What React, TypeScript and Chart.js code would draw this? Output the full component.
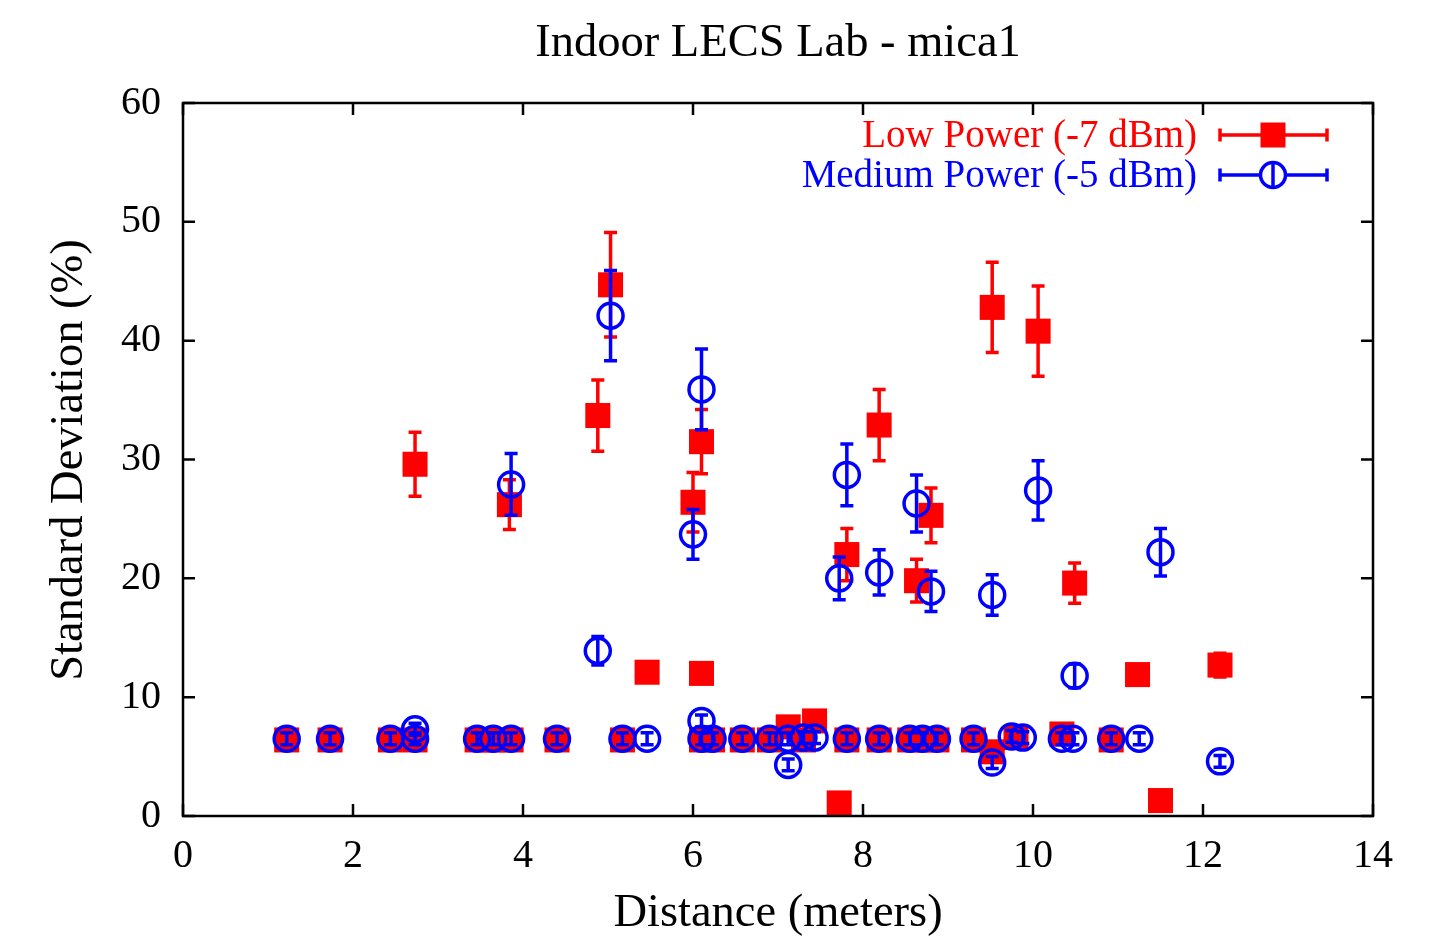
import React, { useEffect, useRef } from "react";
import { Chart, registerables } from "chart.js";

Chart.register(...registerables);

// ---- Data ----
const lowDistance = [
  1.22, 1.73, 2.44, 2.73, 2.73, 3.46, 3.65, 3.86, 3.84, 4.4, 4.88, 5.03, 5.17, 5.46, 6.0, 6.1, 6.1, 6.1, 6.23, 6.58,
  6.9, 7.12, 7.43, 7.3, 7.72, 7.81, 7.81, 8.19, 8.19, 8.55, 8.63, 8.7, 8.8, 8.87, 9.3, 9.52, 9.52, 9.8, 10.06, 10.34,
  10.49, 10.92, 11.23, 11.5, 12.2,
];
const lowStdDev = [
  6.4, 6.4, 6.4, 6.4, 29.6, 6.4, 6.4, 6.4, 26.2, 6.4, 33.7, 44.7, 6.4, 12.1, 26.4, 31.5, 12.0, 6.4, 6.4, 6.4,
  6.4, 7.5, 8.0, 6.4, 1.1, 22.0, 6.4, 32.9, 6.4, 6.4, 19.8, 6.4, 25.3, 6.4, 6.4, 42.8, 5.4, 6.6, 40.8, 6.9,
  19.6, 6.4, 11.9, 1.3, 12.7,
];
const lowError = [
  0.5, 0.5, 0.5, 0.5, 2.7, 0.5, 0.5, 0.5, 2.1, 0.5, 3.0, 4.4, 0.5, 0.7, 2.5, 2.7, 0.8, 0.5, 0.5, 0.5,
  0.5, 0.5, 0.5, 0.5, 0.3, 2.2, 0.5, 3.0, 0.5, 0.5, 1.8, 0.5, 2.3, 0.5, 0.5, 3.8, 0.5, 0.5, 3.8, 0.5,
  1.7, 0.5, 0.6, 0.3, 1.0,
];

const medDistance = [
  1.22, 1.73, 2.44, 2.73, 2.73, 3.46, 3.65, 3.86, 3.86, 4.4, 4.88, 5.03, 5.17, 5.46, 6.0, 6.1, 6.1, 6.1, 6.23, 6.58,
  6.9, 7.12, 7.12, 7.3, 7.43, 7.72, 7.81, 7.81, 8.19, 8.19, 8.55, 8.63, 8.7, 8.8, 8.87, 9.3, 9.52, 9.52, 9.75, 9.88,
  10.06, 10.34, 10.47, 10.49, 10.92, 11.25, 11.5, 12.2,
];
const medStdDev = [
  6.5, 6.5, 6.5, 6.5, 7.3, 6.5, 6.5, 6.5, 27.9, 6.5, 13.9, 42.1, 6.5, 6.5, 23.7, 35.9, 8.0, 6.5, 6.5, 6.5,
  6.5, 6.5, 4.3, 6.6, 6.6, 20.0, 28.7, 6.5, 20.5, 6.5, 6.5, 26.3, 6.5, 18.9, 6.5, 6.5, 18.6, 4.5, 6.7, 6.6,
  27.4, 6.5, 6.5, 11.8, 6.5, 6.5, 22.2, 4.6,
];
const medError = [
  0.5, 0.5, 0.5, 0.5, 0.5, 0.5, 0.5, 0.5, 2.6, 0.5, 1.2, 3.8, 0.5, 0.5, 2.1, 3.4, 0.5, 0.5, 0.5, 0.5,
  0.5, 0.5, 0.5, 0.5, 0.5, 1.8, 2.6, 0.5, 1.9, 0.5, 0.5, 2.4, 0.5, 1.7, 0.5, 0.5, 1.7, 0.5, 0.5, 0.5,
  2.5, 0.5, 0.5, 1.0, 0.5, 0.5, 2.0, 0.5,
];

const xTicks = [0, 2, 4, 6, 8, 10, 12, 14];
const yTicks = [0, 10, 20, 30, 40, 50, 60];

const seriesLabels = ["Low Power (-7 dBm)", "Medium Power (-5 dBm)"];
const chartTitle = "Indoor LECS Lab - mica1";
const xTitle = "Distance (meters)";
const yTitle = "Standard Deviation (%)";

const RED = "#ff0000";
const BLUE = "#0000ff";
const FONT = "'Liberation Serif', 'Times New Roman', serif";
const LW = 3.5;

const errorBarPlugin = {
  id: "errorBars",
  beforeDatasetDraw(chart: any, args: any) {
    const ds = chart.data.datasets[args.index];
    const errs: number[] = ds.errorBars;
    if (!errs) return;
    const xs = chart.scales.x;
    const ys = chart.scales.y;
    const ctx = chart.ctx;
    ctx.save();
    ctx.strokeStyle = ds.borderColor;
    ctx.lineWidth = LW;
    ds.data.forEach((p: any, i: number) => {
      const px = xs.getPixelForValue(p.x);
      const top = ys.getPixelForValue(p.y + errs[i]);
      const bot = ys.getPixelForValue(p.y - errs[i]);
      ctx.beginPath();
      ctx.moveTo(px, top);
      ctx.lineTo(px, bot);
      ctx.moveTo(px - 6.5, top);
      ctx.lineTo(px + 6.5, top);
      ctx.moveTo(px - 6.5, bot);
      ctx.lineTo(px + 6.5, bot);
      ctx.stroke();
    });
    ctx.restore();
  },
};

const framePlugin = {
  id: "frameDeco",
  afterDraw(chart: any) {
    const { ctx, chartArea } = chart;
    const { left, right, top, bottom } = chartArea;
    const xs = chart.scales.x;
    const ys = chart.scales.y;
    ctx.save();
    ctx.strokeStyle = "#000";
    ctx.lineWidth = 2.5;
    ctx.strokeRect(left, top, right - left, bottom - top);
    const tl = 12;
    ctx.beginPath();
    xTicks.forEach((v) => {
      const px = xs.getPixelForValue(v);
      ctx.moveTo(px, bottom);
      ctx.lineTo(px, bottom - tl);
      ctx.moveTo(px, top);
      ctx.lineTo(px, top + tl);
    });
    yTicks.forEach((v) => {
      const py = ys.getPixelForValue(v);
      ctx.moveTo(left, py);
      ctx.lineTo(left + tl, py);
      ctx.moveTo(right, py);
      ctx.lineTo(right - tl, py);
    });
    ctx.stroke();

    // titles
    ctx.fillStyle = "#000";
    ctx.textAlign = "center";
    ctx.textBaseline = "middle";
    ctx.font = `46.5px ${FONT}`;
    ctx.fillText(chartTitle, (left + right) / 2, 44);
    ctx.fillText(xTitle, (left + right) / 2, 914);
    ctx.save();
    ctx.translate(70, 460);
    ctx.rotate(-Math.PI / 2);
    ctx.fillText(yTitle, 0, 0);
    ctx.restore();

    // legend
    const rows = [
      { label: seriesLabels[0], color: RED, y: 135, kind: "rect" },
      { label: seriesLabels[1], color: BLUE, y: 175, kind: "circle" },
    ];
    ctx.font = `39px ${FONT}`;
    ctx.textAlign = "right";
    rows.forEach((r) => {
      ctx.fillStyle = r.color;
      ctx.fillText(r.label, 1197, r.y + 2);
      ctx.strokeStyle = r.color;
      ctx.lineWidth = LW;
      ctx.beginPath();
      ctx.moveTo(1220, r.y);
      ctx.lineTo(1327, r.y);
      ctx.moveTo(1220, r.y - 6.5);
      ctx.lineTo(1220, r.y + 6.5);
      ctx.moveTo(1327, r.y - 6.5);
      ctx.lineTo(1327, r.y + 6.5);
      ctx.stroke();
      if (r.kind === "rect") {
        ctx.fillRect(1273 - 12.5, r.y - 12.5, 25, 25);
      } else {
        ctx.fillStyle = "#fff";
        ctx.beginPath();
        ctx.arc(1273, r.y, 12.5, 0, Math.PI * 2);
        ctx.fill();
        ctx.stroke();
        ctx.beginPath();
        ctx.moveTo(1273, r.y - 12.5);
        ctx.lineTo(1273, r.y + 12.5);
        ctx.stroke();
      }
    });
    ctx.restore();
  },
};

export default function App() {
  const canvasRef = useRef<HTMLCanvasElement | null>(null);

  useEffect(() => {
    if (!canvasRef.current) return;
    const lowData = lowDistance.map((x, i) => ({ x, y: lowStdDev[i] }));
    const medData = medDistance.map((x, i) => ({ x, y: medStdDev[i] }));
    const chart = new Chart(canvasRef.current, {
      type: "scatter",
      data: {
        datasets: [
          {
            label: seriesLabels[0],
            data: lowData,
            errorBars: lowError,
            order: 2,
            pointStyle: "rect",
            pointRadius: 17.7,
            pointBackgroundColor: RED,
            pointBorderColor: RED,
            pointBorderWidth: 0,
            borderColor: RED,
            backgroundColor: RED,
            showLine: false,
          } as any,
          {
            label: seriesLabels[1],
            data: medData,
            errorBars: medError,
            order: 1,
            pointStyle: "circle",
            pointRadius: 12.5,
            pointBackgroundColor: "rgba(0,0,0,0)",
            pointBorderColor: BLUE,
            pointBorderWidth: LW,
            borderColor: BLUE,
            backgroundColor: "rgba(0,0,0,0)",
            showLine: false,
          } as any,
        ],
      },
      options: {
        responsive: false,
        animation: false,
        layout: { padding: { left: 0, right: 73, top: 103, bottom: 0 } },
        plugins: {
          legend: { display: false },
          title: { display: false },
          tooltip: { enabled: false },
        },
        scales: {
          x: {
            type: "linear",
            min: 0,
            max: 14,
            grid: { display: false, drawTicks: false },
            border: { display: false },
            ticks: {
              stepSize: 2,
              padding: 16,
              color: "#000",
              font: { family: FONT, size: 40 },
              maxRotation: 0,
            },
            afterFit: (scale: any) => {
              scale.height = 128;
            },
          },
          y: {
            type: "linear",
            min: 0,
            max: 60,
            grid: { display: false, drawTicks: false },
            border: { display: false },
            ticks: {
              stepSize: 10,
              padding: 22,
              color: "#000",
              font: { family: FONT, size: 40 },
            },
            afterFit: (scale: any) => {
              scale.width = 183;
            },
          },
        },
      } as any,
      plugins: [errorBarPlugin, framePlugin],
    });
    return () => chart.destroy();
  }, []);

  return (
    <div style={{ position: "fixed", left: 0, top: 0, width: 1446, height: 944, background: "#fff" }}>
      <canvas ref={canvasRef} width={1446} height={944} style={{ display: "block" }} />
    </div>
  );
}
